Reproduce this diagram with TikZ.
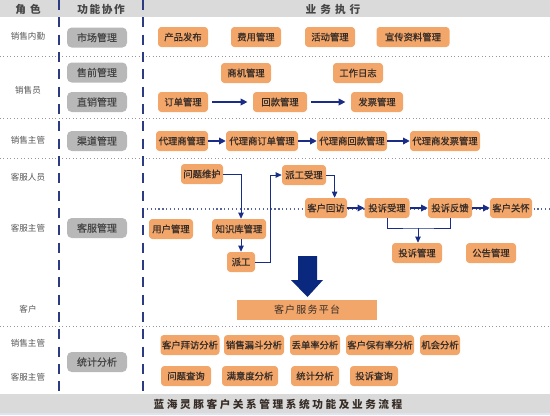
\documentclass[tikz,border=0pt]{standalone}
\usepackage{fontspec}
\setmainfont{Noto Sans CJK SC}
\usetikzlibrary{arrows.meta}

\definecolor{boxorange}{RGB}{242,166,106}
\definecolor{boxgray}{RGB}{184,184,184}
\definecolor{bandgray}{RGB}{218,218,218}
\definecolor{textdark}{RGB}{55,45,40}
\definecolor{graytext}{RGB}{70,70,70}
\definecolor{roletext}{RGB}{85,85,85}
\definecolor{lanecol}{RGB}{45,60,130}
\definecolor{arrowblue}{RGB}{25,45,135}
\definecolor{bigblue}{RGB}{10,40,125}
\definecolor{sepgray}{RGB}{150,150,160}
\definecolor{footblue}{RGB}{222,228,238}

\begin{document}
\begin{tikzpicture}[x=0.75pt,y=0.75pt,yscale=-1,xscale=1,
	obox/.style={fill=boxorange, rounded corners=2.5pt, minimum height=15pt, minimum width=37.5pt, inner xsep=1pt, inner ysep=0pt, text=textdark, font=\fontsize{7}{8}\selectfont\addfontfeatures{FakeBold=0.6}},
	gbox/.style={fill=boxgray, rounded corners=3.5pt, minimum height=15pt, minimum width=45pt, inner ysep=0pt, text=graytext, font=\fontsize{7.5}{9}\selectfont\addfontfeatures{FakeBold=0.4}},
	role/.style={inner sep=0.75pt, text=roletext, font=\fontsize{6.4}{7}\selectfont},
	head/.style={inner sep=0.75pt, text=graytext, font=\fontsize{8}{9}\selectfont\bfseries\addfontfeatures{LetterSpace=15}},
	flow/.style={draw=arrowblue, line width=0.9pt, -{Triangle[length=5pt,width=5pt]}},
	link/.style={draw=arrowblue, line width=0.6pt},
	elbow/.style={link, -{Triangle[length=4.5pt,width=4pt]}},
	sep/.style={draw=sepgray, dotted, line width=0.6pt},
	lane/.style={draw=lanecol, line width=1.2pt, dash pattern=on 7.5pt off 5.5pt}]
\useasboundingbox (0,0) rectangle (550,415);

%Header and footer bands
\fill [bandgray] (0,0) rectangle (550,17);
\fill [bandgray] (0,394) rectangle (550,413);
\fill [footblue] (0,413) rectangle (550,415);

%Separators
\draw [sep] (0,56) -- (550,56);
\draw [sep] (0,118) -- (550,118);
\draw [sep] (0,158) -- (550,158);
\draw [sep] (0,326) -- (550,326);
\draw [draw=lanecol!80, dotted, line width=0.9pt] (143,209) -- (550,209);
\draw [lane] (59,0) -- (59,392);
\draw [lane] (143,0) -- (143,392);

%Titles
\draw (28,9) node [head] (tjs) {角 色};
\draw (101,9) node [head] (tgn) {功能协作};
\draw (333,9) node [head] (tyw) {业 务 执 行};
\draw (278,404) node [head, text=textdark, font=\fontsize{8}{9}\selectfont\bfseries\addfontfeatures{LetterSpace=24}] (tfoot) {蓝海灵豚客户关系管理系统功能及业务流程};

%Roles
\draw (28,36) node [role] (xsnq) {销售内勤};
\draw (28,90) node [role] (xsy) {销售员};
\draw (28,140) node [role] (xszg) {销售主管};
\draw (28,177) node [role] (kfry) {客服人员};
\draw (28,228) node [role] (kfzg) {客服主管};
\draw (28,309) node [role] (kh) {客户};
\draw (28,343) node [role] (xszgb) {销售主管};
\draw (28,377) node [role] (kfzgb) {客服主管};

%Functions
\draw (97,37.5) node [gbox] (scgl) {市场管理};
\draw (97,72.5) node [gbox] (sqgl) {售前管理};
\draw (97,102) node [gbox] (zxgl) {直销管理};
\draw (97,141) node [gbox] (qdgl) {渠道管理};
\draw (97,228) node [gbox] (kfgl) {客服管理};
\draw (97,362) node [gbox] (tjfxg) {统计分析};

%Market
\draw (183,37) node [obox] (cpfb) {产品发布};
\draw (256,37) node [obox] (fygl) {费用管理};
\draw (330,37) node [obox] (hdgl) {活动管理};
\draw (413,37) node [obox, minimum width=54.75pt] (xczl) {宣传资料管理};

%Sales
\draw (246,73) node [obox] (sjgl) {商机管理};
\draw (358,73) node [obox] (gzrz) {工作日志};
\draw (183,102) node [obox] (ddgl) {订单管理};
\draw (280,102) node [obox, minimum width=40.5pt] (hkgl) {回款管理};
\draw (377,102) node [obox, minimum width=39pt] (fpgl) {发票管理};
\draw [flow, shorten <=3pt, shorten >=4pt] (ddgl) -- (hkgl);
\draw [flow, shorten <=3pt, shorten >=4pt] (hkgl) -- (fpgl);

%Channel
\draw (182,141) node [obox, minimum width=39pt] (dls) {代理商管理};
\draw (262,141) node [obox, minimum width=54pt] (dlsdd) {代理商订单管理};
\draw (352,141) node [obox, minimum width=52.5pt] (dlshk) {代理商回款管理};
\draw (445,141) node [obox, minimum width=52.5pt] (dlsfp) {代理商发票管理};
\draw [flow] (dls) -- (dlsdd);
\draw [flow] (dlsdd) -- (dlshk);
\draw [flow] (dlshk) -- (dlsfp);

%Service
\draw (202,174) node [obox, minimum width=31.5pt] (wtwh) {问题维护};
\draw (304,175) node [obox, minimum width=33pt] (pgsl) {派工受理};
\draw (326,208) node [obox, minimum width=31.5pt] (khhf) {客户回访};
\draw (387,208) node [obox, minimum width=33.75pt] (tssl) {投诉受理};
\draw (450,208) node [obox, minimum width=33pt] (tsfk) {投诉反馈};
\draw (511,208) node [obox, minimum width=31.5pt] (khgh) {客户关怀};
\draw (171,229) node [obox, minimum width=33pt] (yhgl) {用户管理};
\draw (239,229) node [obox, minimum width=40.5pt] (zskgl) {知识库管理};
\draw (241,262) node [obox, minimum width=21pt] (pg) {派工};
\draw (417,253) node [obox] (tsgl) {投诉管理};
\draw (491,253) node [obox] (gggl) {公告管理};
\coordinate (pgturn) at (270,262);
\coordinate (tsjoin) at (418,228);
\draw [elbow] (wtwh.east) -| (pg.north |- zskgl.north);
\draw [elbow] (pg.north |- zskgl.south) -- (pg.north);
\draw [elbow] (pg.east) -- (pgturn) |- (pgsl.west);
\draw [elbow] (pgsl.east) -| (khhf.50);
\draw [flow] (khhf) -- (tssl);
\draw [flow] (tssl) -- (tsfk);
\draw [flow] (tsfk) -- (khgh);
\draw [link] (tssl.south) |- (tsjoin) -| (tsfk.south);
\draw [elbow] (tsjoin) -- (tsjoin |- tsgl.north);

%Platform
\draw [fill=bigblue, draw=none] (298,256) -- (317,256) -- (317,280) -- (323,280) -- (307.5,297) -- (291,280) -- (298,280) -- cycle;
\draw (307,310) node [fill=boxorange, minimum width=105pt, minimum height=15pt, inner ysep=0pt, text=textdark, font=\fontsize{7.5}{9}\selectfont\addfontfeatures{LetterSpace=12}] (kffw) {客户服务平台};

%Statistics
\draw (190,345) node [obox, minimum width=44.25pt] (bffx) {客户拜访分析};
\draw (254,345) node [obox, minimum width=45pt] (ldfx) {销售漏斗分析};
\draw (315,345) node [obox] (ddlfx) {丢单率分析};
\draw (380,345) node [obox, minimum width=50.25pt] (byfx) {客户保有率分析};
\draw (440,345) node [obox, minimum width=30pt] (jhfx) {机会分析};
\draw (186,376) node [obox] (wtcx) {问题查询};
\draw (250,376) node [obox, minimum width=42pt] (mydfx) {满意度分析};
\draw (315,376) node [obox, minimum width=36pt] (tjfx) {统计分析};
\draw (374,376) node [obox, minimum width=36pt] (tscx) {投诉查询};
\end{tikzpicture}
\end{document}
